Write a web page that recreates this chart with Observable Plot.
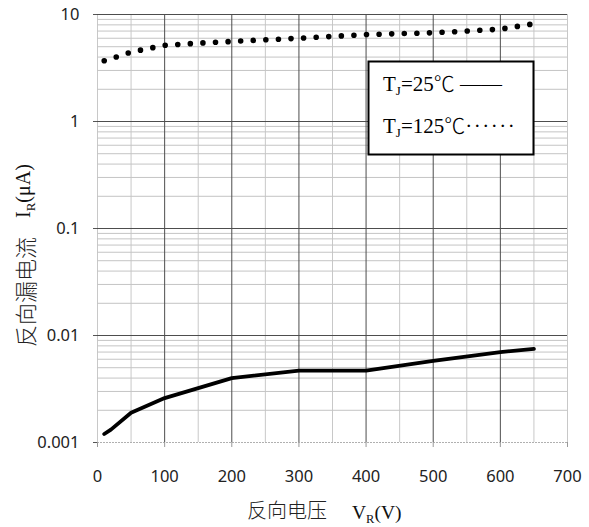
<!DOCTYPE html>
<html>
<head>
<meta charset="utf-8">
<script src="https://cdn.jsdelivr.net/npm/d3@7"></script>
<script src="https://cdn.jsdelivr.net/npm/@observablehq/plot@0.6"></script>
<style>
  html, body { margin: 0; padding: 0; background: #fff; }
  #chart { width: 589px; height: 527px; }
  #chart svg { display: block; }
</style>
</head>
<body>
<div id="chart"></div>
<script>
// ---- data ----
const voltage25 = [10, 20, 50, 100, 200, 300, 400, 500, 600, 650];
const current25 = [0.0012, 0.00132, 0.0019, 0.0026, 0.0040, 0.0047, 0.0047, 0.0058, 0.0070, 0.0075];
const voltage125 = [10, 30, 50, 75, 100, 150, 200, 300, 400, 500, 550, 600, 650];
const current125 = [3.7, 4.05, 4.45, 4.8, 5.15, 5.4, 5.6, 6.0, 6.5, 6.75, 7.0, 7.3, 8.2];

// ---- ticks / labels ----
const xTicks = [0, 100, 200, 300, 400, 500, 600, 700];
const xMajorGrid = [100, 200, 300, 400, 500, 600];
const xMinorGrid = [0, 50, 150, 250, 350, 450, 550, 650, 700];
const yDecades = [0.001, 0.01, 0.1, 1, 10];
const yTickLabels = ["0.001", "0.01", "0.1", "1", "10"];
const yMinorSteps = [2, 3, 4, 5, 6, 7, 8, 9];
const xLabelCN = "反向电压";
const xLabelSym = "V", xLabelSub = "R", xLabelUnit = "(V)";
const yLabelCN = "反向漏电流";
const yLabelSym = "I", yLabelSub = "R", yLabelUnit = "(μA)";
const legendSym = "T", legendSub = "J";
const legend25 = "=25", legend125 = "=125", legendDeg = "℃";
const legend25Mark = " ——", legend125Mark = "······";

const data25 = voltage25.map((v, i) => ({v, i: current25[i]}));
const data125 = voltage125.map((v, i) => ({v, i: current125[i]}));
const yMinorGrid = [];
for (const d of yDecades.slice(0, -1)) for (const k of yMinorSteps) yMinorGrid.push(d * k);

const chart = Plot.plot({
  width: 589,
  height: 527,
  marginLeft: 97,
  marginRight: 22,
  marginTop: 14,
  marginBottom: 85,
  style: {fontFamily: "'Noto Sans', sans-serif", fontSize: "16.5px", color: "#222", background: "#fff"},
  x: {domain: [0, 700]},
  y: {type: "log", domain: [0.001, 10]},
  marks: [
    Plot.ruleX(xMinorGrid, {stroke: "#c8c8c8", strokeWidth: 1}),
    Plot.ruleY(yMinorGrid, {stroke: "#c4c4c4", strokeWidth: 1}),
    Plot.ruleX(xMajorGrid, {stroke: "#4d4d4d", strokeWidth: 1}),
    Plot.ruleY(yDecades.slice(1), {stroke: "#4d4d4d", strokeWidth: 1}),
    Plot.ruleY(yDecades.slice(0, 1), {stroke: "#b0b0b0", strokeWidth: 1, strokeDasharray: "2 1"}),
    Plot.axisX({ticks: xTicks, tickFormat: d => String(d), tickSize: 5, tickPadding: 23, stroke: "#999", fill: "#222", label: null}),
    Plot.axisY({ticks: yDecades, tickFormat: d => yTickLabels[yDecades.indexOf(d)], tickSize: 4, tickPadding: 14, stroke: "#555", fill: "#222", label: null}),
    Plot.line(data25, {x: "v", y: "i", stroke: "#000", strokeWidth: 3.8, curve: "linear", strokeLinejoin: "round", strokeLinecap: "round"}),
    Plot.line(data125, {x: "v", y: "i", stroke: "#000", strokeWidth: 5.6, strokeDasharray: "0 12.6", strokeLinecap: "round", curve: "linear"})
  ]
});
document.getElementById("chart").appendChild(chart);

// ---- axis titles & legend (text) ----
const svg = d3.select(chart);
const serif = "'Liberation Serif', 'DejaVu Serif', serif";
const cjk = "'Noto Sans CJK SC', sans-serif";
const g = svg.append("g").attr("text-anchor", "start");

// X title
g.append("text").attr("x", 247).attr("y", 518)
  .attr("font-family", cjk).attr("font-weight", 300).attr("font-size", 20).attr("fill", "#222").text(xLabelCN);
const xt = g.append("text").attr("x", 352).attr("y", 519)
  .attr("font-family", serif).attr("font-size", 19.5).attr("fill", "#111");
xt.append("tspan").text(xLabelSym);
xt.append("tspan").attr("font-size", 12.5).attr("dy", 4).text(xLabelSub);
xt.append("tspan").attr("dy", -4).text(xLabelUnit);

// Y title
g.append("text").attr("transform", "translate(34,347) rotate(-90)")
  .attr("font-family", cjk).attr("font-weight", 300).attr("font-size", 22).attr("fill", "#222").text(yLabelCN);
const yt = g.append("text").attr("transform", "translate(30,218) rotate(-90)")
  .attr("font-family", serif).attr("font-size", 20).attr("fill", "#111");
yt.append("tspan").text(yLabelSym);
yt.append("tspan").attr("font-size", 13).attr("dy", 5).text(yLabelSub);
yt.append("tspan").attr("dy", -5).text(yLabelUnit);

// Legend box
g.append("rect").attr("x", 368.5).attr("y", 61.5).attr("width", 165).attr("height", 93)
  .attr("fill", "#fff").attr("stroke", "#000").attr("stroke-width", 2);
const l1 = g.append("text").attr("x", 383).attr("y", 91)
  .attr("font-family", serif).attr("font-size", 21).attr("fill", "#000");
l1.append("tspan").text(legendSym);
l1.append("tspan").attr("font-size", 13).attr("dy", 4).text(legendSub);
l1.append("tspan").attr("dy", -4).text(legend25);
l1.append("tspan").attr("font-family", cjk).attr("font-weight", 300).text(legendDeg);
l1.append("tspan").text(legend25Mark);
const l2 = g.append("text").attr("x", 383).attr("y", 133)
  .attr("font-family", serif).attr("font-size", 21).attr("fill", "#000");
l2.append("tspan").text(legendSym);
l2.append("tspan").attr("font-size", 13).attr("dy", 4).text(legendSub);
l2.append("tspan").attr("dy", -4).text(legend125);
l2.append("tspan").attr("font-family", cjk).attr("font-weight", 300).text(legendDeg);
l2.append("tspan").attr("letter-spacing", 1.5).text(legend125Mark);
</script>
</body>
</html>
